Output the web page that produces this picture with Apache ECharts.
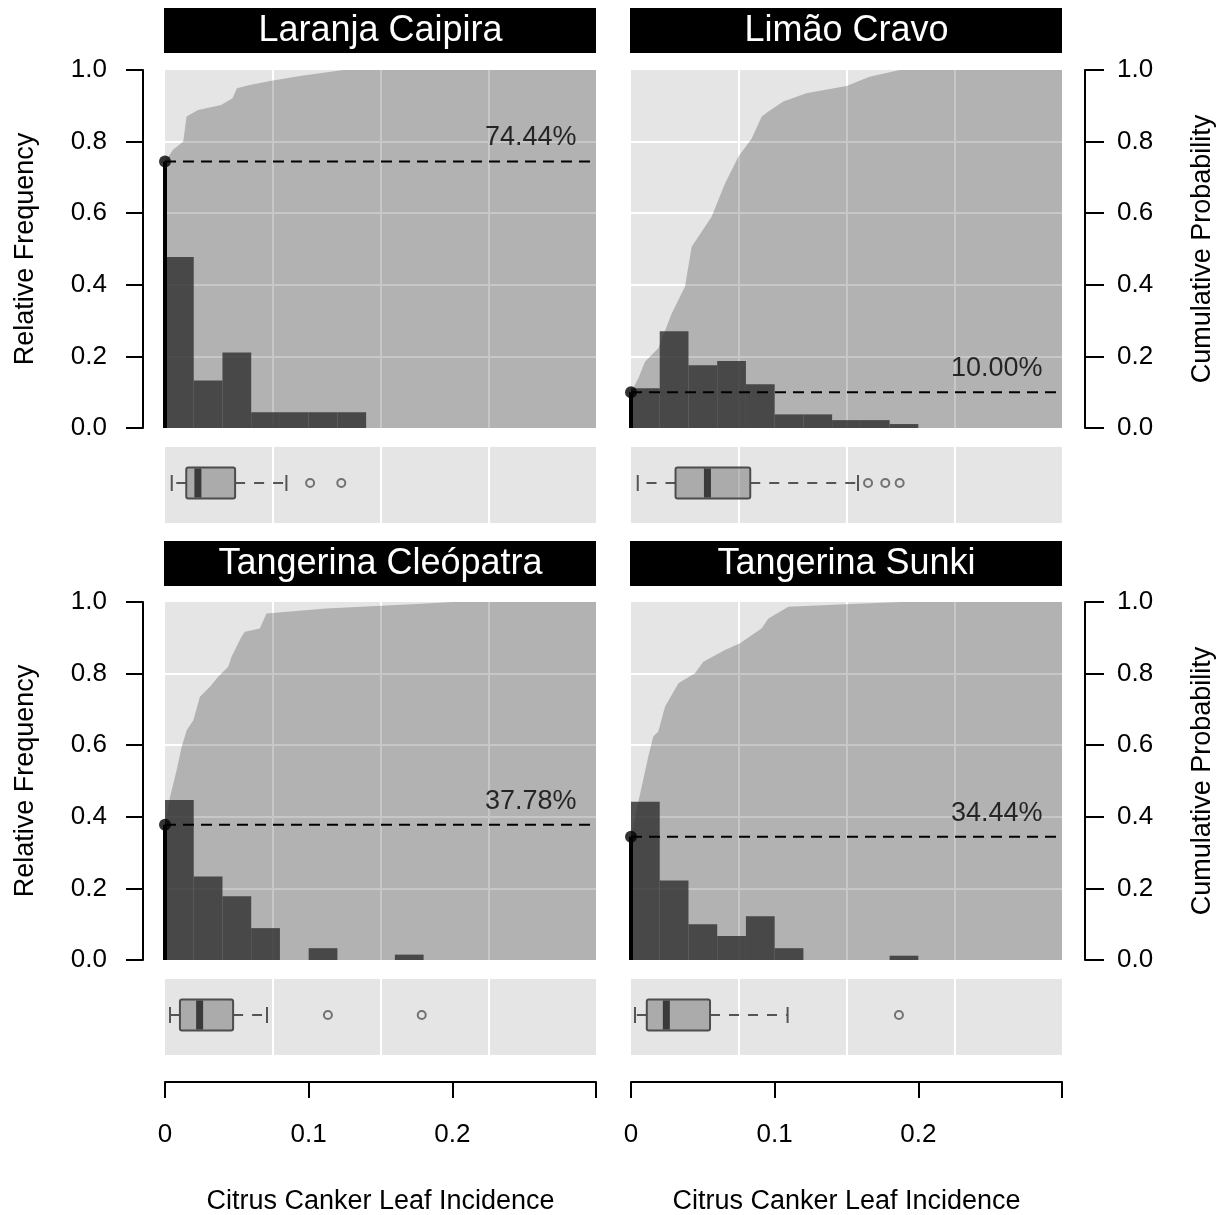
<!DOCTYPE html>
<html>
<head>
<meta charset="utf-8">
<script src="https://cdn.jsdelivr.net/npm/echarts@6/dist/echarts.min.js"></script>
<style>
  html, body { margin: 0; padding: 0; background: #fff; }
  #chart { width: 1231px; height: 1215px; }
</style>
</head>
<body>
<div id="chart"></div>
<script>
// rootstocks, one panel each
var panelNames = ['Laranja Caipira', 'Limão Cravo', 'Tangerina Cleópatra', 'Tangerina Sunki'];

// histogram, relative frequency per bin of width 0.02 starting at 0
var binWidth = 0.02;
var histCaipira = [0.478, 0.133, 0.211, 0.044, 0.044, 0.044, 0.044];
var histCravo = [0.111, 0.27, 0.175, 0.187, 0.122, 0.038, 0.038, 0.022, 0.022, 0.011];
var histCleopatra = [0.447, 0.233, 0.178, 0.089, 0, 0.033, 0, 0, 0.015];
var histSunki = [0.442, 0.222, 0.1, 0.067, 0.122, 0.033, 0, 0, 0, 0.012];

// cumulative probability at zero incidence
var zeroShare = [0.7444, 0.1, 0.3778, 0.3444];
var zeroLabels = ['74.44%', '10.00%', '37.78%', '34.44%'];

// empirical cumulative probability [incidence, probability]
var ecdfCaipira = [[0, 0.7444], [0.0056, 0.777], [0.0127, 0.80], [0.015, 0.870], [0.023, 0.888], [0.039, 0.902],
  [0.047, 0.921], [0.050, 0.949], [0.059, 0.958], [0.074, 0.970], [0.094, 0.983], [0.124, 1], [0.3, 1]];
var ecdfCravo = [[0, 0.1], [0.0051, 0.139], [0.0097, 0.185], [0.019, 0.223], [0.0283, 0.320], [0.0376, 0.395],
  [0.0422, 0.506], [0.0561, 0.590], [0.0654, 0.683], [0.0747, 0.758], [0.084, 0.809], [0.091, 0.870],
  [0.0956, 0.884], [0.106, 0.912], [0.122, 0.935], [0.150, 0.955], [0.166, 0.981], [0.187, 1], [0.3, 1]];
var ecdfCleopatra = [[0, 0.3778], [0.0035, 0.456], [0.0081, 0.531], [0.0116, 0.596], [0.0151, 0.642], [0.0197, 0.670],
  [0.0243, 0.735], [0.0313, 0.763], [0.037, 0.791], [0.044, 0.819], [0.0463, 0.847], [0.0532, 0.903],
  [0.0556, 0.917], [0.066, 0.926], [0.0706, 0.968], [0.112, 0.982], [0.182, 0.996], [0.2, 1], [0.3, 1]];
var ecdfSunki = [[0, 0.3444], [0.0028, 0.400], [0.0074, 0.484], [0.012, 0.568], [0.0155, 0.624], [0.019, 0.638],
  [0.0237, 0.708], [0.033, 0.773], [0.0445, 0.801], [0.0503, 0.833], [0.0654, 0.866], [0.0759, 0.885],
  [0.091, 0.927], [0.0956, 0.954], [0.1095, 0.987], [0.149, 0.994], [0.188, 1], [0.3, 1]];

// boxplots [lower whisker, q1, median, q3, upper whisker] and outliers
var boxCaipira = [0.0047, 0.0148, 0.0229, 0.0488, 0.0845];
var boxCravo = [0.0047, 0.031, 0.0532, 0.083, 0.158];
var boxCleopatra = [0.0035, 0.0104, 0.0241, 0.0474, 0.071];
var boxSunki = [0.0028, 0.011, 0.0246, 0.055, 0.109];
var outCaipira = [0.101, 0.1227];
var outCravo = [0.165, 0.177, 0.187];
var outCleopatra = [0.1134, 0.1787];
var outSunki = [0.1865];

// axes
var xMax = 0.3;
var xTicks = [0, 0.1, 0.2, 0.3];
var xTickLabels = ['0', '0.1', '0.2', ''];
var xTitle = 'Citrus Canker Leaf Incidence';
var yLeftTitle = 'Relative Frequency';
var yRightTitle = 'Cumulative Probability';

var hists = [histCaipira, histCravo, histCleopatra, histSunki];
var ecdfs = [ecdfCaipira, ecdfCravo, ecdfCleopatra, ecdfSunki];
var boxes = [boxCaipira, boxCravo, boxCleopatra, boxSunki];
var outs = [outCaipira, outCravo, outCleopatra, outSunki];

var FONT = '"Liberation Sans", Arial, sans-serif';
var W = 431, H = 358, BH = 76;
var layout = [
  { left: 165, top: 70, boxTop: 447, strip: 8, side: 'left' },
  { left: 631, top: 70, boxTop: 447, strip: 8, side: 'right' },
  { left: 165, top: 602, boxTop: 979, strip: 541, side: 'left' },
  { left: 631, top: 602, boxTop: 979, strip: 541, side: 'right' }
];

function histItem(params, api) {
  var a = api.coord([api.value(0), api.value(2)]);
  var b = api.coord([api.value(1), 0]);
  return {
    type: 'rect',
    shape: { x: a[0], y: a[1], width: b[0] - a[0], height: b[1] - a[1] },
    style: { fill: 'rgba(45,45,45,0.8)' }
  };
}

function boxItem(params, api) {
  var y = api.coord([0, api.value(0)])[1] - 2;
  var xs = [1, 2, 3, 4, 5].map(function (d) { return api.coord([api.value(d), api.value(0)])[0]; });
  var half = 15.5, cap = 8;
  var dash = { stroke: '#555', lineWidth: 2, lineDash: [10, 9] };
  var solid = { stroke: '#555', lineWidth: 2 };
  return {
    type: 'group',
    children: [
      { type: 'line', shape: { x1: xs[1], y1: y, x2: xs[0], y2: y }, style: dash },
      { type: 'line', shape: { x1: xs[3], y1: y, x2: xs[4], y2: y }, style: dash },
      { type: 'line', shape: { x1: xs[0], y1: y - cap, x2: xs[0], y2: y + cap }, style: solid },
      { type: 'line', shape: { x1: xs[4], y1: y - cap, x2: xs[4], y2: y + cap }, style: solid },
      { type: 'rect', shape: { x: xs[1], y: y - half, width: xs[3] - xs[1], height: 2 * half, r: 2 },
        style: { fill: 'rgba(90,90,90,0.42)', stroke: '#4d4d4d', lineWidth: 2 } },
      { type: 'line', shape: { x1: xs[2], y1: y - half + 1, x2: xs[2], y2: y + half - 1 },
        style: { stroke: '#3a3a3a', lineWidth: 7 } }
    ]
  };
}

var grids = [], xAxes = [], yAxes = [], series = [], graphics = [];
var gridLine = { show: true, showMinLine: false, showMaxLine: false, lineStyle: { color: '#fff', width: 2 } };

layout.forEach(function (L, p) {
  var gMain = grids.length;
  grids.push({ left: L.left, top: L.top, width: W, height: H, show: true, backgroundColor: '#e5e5e5', borderWidth: 0 });
  var gBox = grids.length;
  grids.push({ left: L.left, top: L.boxTop, width: W, height: BH, show: true, backgroundColor: '#e5e5e5', borderWidth: 0 });

  // grid-only x axes (4 equal columns)
  [gMain, gBox].forEach(function (g) {
    xAxes.push({
      gridIndex: g, type: 'value', min: 0, max: xMax, interval: xMax / 4,
      axisLine: { show: false, onZero: false }, axisTick: { show: false }, axisLabel: { show: false },
      splitLine: gridLine
    });
  });
  var xMainIdx = xAxes.length - 2, xBoxIdx = xAxes.length - 1;

  var left = L.side === 'left';
  var yMainIdx = yAxes.length;
  yAxes.push({
    gridIndex: gMain, type: 'value', min: 0, max: 1, interval: 0.2,
    position: L.side, offset: left ? 22 : 23,
    axisLine: { show: true, onZero: false, lineStyle: { color: '#000', width: 2 } },
    axisTick: { show: true, inside: false, length: left ? 17 : 19, lineStyle: { color: '#000', width: 2 } },
    axisLabel: { show: true, margin: left ? 36 : 32, fontSize: 26, color: '#000', fontFamily: FONT,
      formatter: function (v) { return v.toFixed(1); } },
    splitLine: gridLine
  });
  var yBoxIdx = yAxes.length;
  yAxes.push({ gridIndex: gBox, type: 'category', data: [''], show: false });

  // visible bottom axis under the lower panels
  if (p >= 2) {
    xAxes.push({
      gridIndex: gBox, type: 'value', min: 0, max: xMax, interval: 0.1, position: 'bottom', offset: 27,
      axisLine: { show: true, onZero: false, lineStyle: { color: '#000', width: 2 } },
      axisTick: { show: true, inside: false, length: 16, lineStyle: { color: '#000', width: 2 } },
      axisLabel: { show: true, margin: 40, fontSize: 26, color: '#000', fontFamily: FONT,
        formatter: function (v) {
          var i = xTicks.findIndex(function (t) { return Math.abs(t - v) < 1e-6; });
          return i < 0 ? '' : xTickLabels[i];
        } },
      splitLine: { show: false }
    });
  }

  var pct = zeroShare[p];
  series.push({
    type: 'line', xAxisIndex: xMainIdx, yAxisIndex: yMainIdx, data: ecdfs[p], symbol: 'none',
    lineStyle: { width: 0 }, areaStyle: { color: 'rgba(0,0,0,0.22)', opacity: 1 }, z: 1, silent: true
  });
  series.push({
    type: 'custom', xAxisIndex: xMainIdx, yAxisIndex: yMainIdx, renderItem: histItem,
    encode: { x: [0, 1], y: 2 }, z: 2, silent: true,
    data: hists[p].map(function (h, i) { return [i * binWidth, (i + 1) * binWidth, h]; })
  });
  series.push({
    type: 'line', xAxisIndex: xMainIdx, yAxisIndex: yMainIdx, data: [[0, pct], [xMax, pct]], symbol: 'none',
    clip: false, lineStyle: { color: '#000', width: 2, type: [11, 7] }, z: 3, silent: true
  });
  series.push({
    type: 'line', xAxisIndex: xMainIdx, yAxisIndex: yMainIdx, data: [[0, 0], [0, pct]], symbol: 'none',
    clip: false, lineStyle: { color: '#000', width: 4 }, z: 4, silent: true
  });
  series.push({
    type: 'scatter', xAxisIndex: xMainIdx, yAxisIndex: yMainIdx, data: [[0, pct]], symbolSize: 12,
    clip: false, itemStyle: { color: '#000' }, z: 5, silent: true
  });
  series.push({
    type: 'scatter', xAxisIndex: xMainIdx, yAxisIndex: yMainIdx, data: [[xMax, pct]], symbolSize: 1,
    itemStyle: { color: 'rgba(0,0,0,0)' }, clip: false, z: 5, silent: true,
    label: { show: true, formatter: zeroLabels[p], position: 'left', distance: 19, verticalAlign: 'bottom',
      offset: [0, -10], fontSize: 27, color: '#000', fontFamily: FONT }
  });
  series.push({
    type: 'custom', xAxisIndex: xBoxIdx, yAxisIndex: yBoxIdx, renderItem: boxItem,
    encode: { y: 0, x: [1, 2, 3, 4, 5] }, data: [[0].concat(boxes[p])], z: 2, silent: true
  });
  series.push({
    type: 'scatter', xAxisIndex: xBoxIdx, yAxisIndex: yBoxIdx, symbol: 'circle', symbolSize: 8,
    itemStyle: { color: 'rgba(0,0,0,0)', borderColor: '#555', borderWidth: 2 }, z: 3, silent: true,
    symbolOffset: [0, -2],
    data: outs[p].map(function (v) { return [v, 0]; })
  });

  // strip title
  graphics.push({ type: 'rect', shape: { x: L.left - 1, y: L.strip, width: W + 1, height: 45 }, style: { fill: '#000' } });
  graphics.push({ type: 'text', x: L.left + W / 2, y: L.strip + 23,
    style: { text: panelNames[p], fill: '#fff', font: '36px ' + FONT, align: 'center', verticalAlign: 'middle' } });

  // axis titles
  var midY = L.top + H / 2;
  graphics.push({ type: 'text', x: left ? 26 : 1203, y: midY, rotation: Math.PI / 2,
    style: { text: left ? yLeftTitle : yRightTitle, fill: '#000', font: '27px ' + FONT,
      align: 'center', verticalAlign: 'middle' } });
  if (p >= 2) {
    graphics.push({ type: 'text', x: L.left + W / 2, y: 1202,
      style: { text: xTitle, fill: '#000', font: '27px ' + FONT, align: 'center', verticalAlign: 'middle' } });
  }
});

var chart = echarts.init(document.getElementById('chart'), null, { renderer: 'canvas' });
chart.setOption({
  animation: false,
  textStyle: { fontFamily: FONT },
  grid: grids,
  xAxis: xAxes,
  yAxis: yAxes,
  series: series,
  graphic: graphics
});
</script>
</body>
</html>
